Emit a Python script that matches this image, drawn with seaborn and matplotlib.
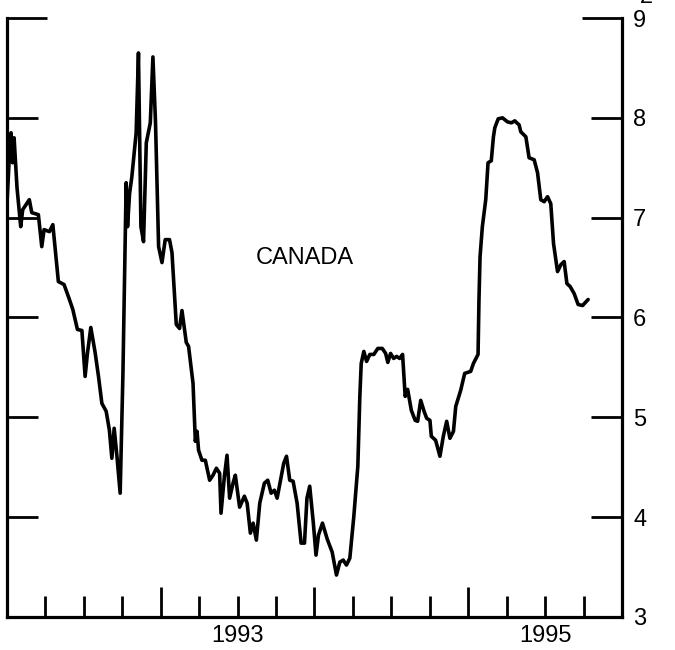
import matplotlib
matplotlib.use("Agg")
import matplotlib.pyplot as plt
import seaborn as sns
import pandas as pd

# Canada, weekly series (decimal years, percent)
years = [
    1992.000, 1992.013, 1992.026, 1992.036, 1992.046, 1992.065, 1992.089, 1992.102,
    1992.145, 1992.161, 1992.204, 1992.226, 1992.241, 1992.276, 1992.298, 1992.334,
    1992.371, 1992.406, 1992.428, 1992.458, 1992.487, 1992.508, 1992.523, 1992.545,
    1992.573, 1992.595, 1992.617, 1992.645, 1992.666, 1992.682, 1992.697, 1992.715,
    1992.736, 1992.754, 1992.775, 1992.784, 1992.797, 1992.812, 1992.840, 1992.855,
    1992.871, 1992.888, 1992.906, 1992.932, 1992.949, 1992.966, 1992.986, 1993.008,
    1993.029, 1993.057, 1993.073, 1993.101, 1993.122, 1993.138, 1993.166, 1993.181,
    1993.210, 1993.225, 1993.236, 1993.246, 1993.268, 1993.290, 1993.318, 1993.340,
    1993.362, 1993.383, 1993.392, 1993.414, 1993.431, 1993.448, 1993.470, 1993.485,
    1993.513, 1993.544, 1993.562, 1993.583, 1993.601, 1993.622, 1993.644, 1993.674,
    1993.696, 1993.718, 1993.739, 1993.757, 1993.779, 1993.800, 1993.818, 1993.839,
    1993.861, 1993.887, 1993.913, 1993.935, 1993.951, 1993.969, 1993.992, 1994.010,
    1994.026, 1994.052, 1994.083, 1994.115, 1994.143, 1994.165, 1994.187, 1994.208,
    1994.230, 1994.256, 1994.282, 1994.295, 1994.304, 1994.321, 1994.339, 1994.360,
    1994.386, 1994.412, 1994.441, 1994.463, 1994.477, 1994.495, 1994.515, 1994.534,
    1994.554, 1994.573, 1994.590, 1994.606, 1994.630, 1994.655, 1994.671, 1994.691,
    1994.713, 1994.730, 1994.751, 1994.760, 1994.788, 1994.816, 1994.838, 1994.860,
    1994.881, 1994.904, 1994.919, 1994.951, 1994.977, 1995.016, 1995.034, 1995.064,
    1995.070, 1995.077, 1995.092, 1995.114, 1995.129, 1995.150, 1995.164, 1995.173,
    1995.195, 1995.223, 1995.255, 1995.281, 1995.303, 1995.316, 1995.331, 1995.342,
    1995.375, 1995.396, 1995.429, 1995.451, 1995.472, 1995.494, 1995.516, 1995.537,
    1995.555, 1995.581, 1995.603, 1995.624, 1995.642, 1995.663, 1995.689, 1995.715,
    1995.744, 1995.780,
]
rates = [
    7.15, 7.55, 7.85, 7.55, 7.80, 7.30, 6.91, 7.08,
    7.18, 7.05, 7.03, 6.71, 6.88, 6.86, 6.93, 6.36,
    6.33, 6.18, 6.08, 5.88, 5.87, 5.41, 5.64, 5.90,
    5.65, 5.41, 5.14, 5.06, 4.87, 4.59, 4.89, 4.61,
    4.24, 5.44, 7.35, 6.91, 7.24, 7.41, 7.85, 8.65,
    6.91, 6.76, 7.75, 7.95, 8.61, 7.95, 6.71, 6.55,
    6.78, 6.78, 6.65, 5.93, 5.89, 6.07, 5.75, 5.71,
    5.34, 4.76, 4.86, 4.67, 4.57, 4.57, 4.37, 4.42,
    4.49, 4.44, 4.04, 4.41, 4.62, 4.19, 4.34, 4.42,
    4.10, 4.21, 4.14, 3.84, 3.94, 3.77, 4.14, 4.34,
    4.37, 4.24, 4.27, 4.19, 4.37, 4.54, 4.61, 4.37,
    4.36, 4.14, 3.74, 3.74, 4.19, 4.31, 3.95, 3.62,
    3.82, 3.94, 3.78, 3.65, 3.42, 3.55, 3.57, 3.52,
    3.59, 4.01, 4.51, 5.21, 5.54, 5.66, 5.56, 5.63,
    5.63, 5.69, 5.69, 5.64, 5.55, 5.64, 5.59, 5.61,
    5.59, 5.63, 5.21, 5.28, 5.07, 4.97, 4.96, 5.17,
    5.06, 4.99, 4.97, 4.81, 4.77, 4.61, 4.81, 4.96,
    4.79, 4.86, 5.11, 5.27, 5.44, 5.46, 5.54, 5.63,
    6.18, 6.61, 6.91, 7.18, 7.55, 7.57, 7.81, 7.90,
    7.99, 8.00, 7.96, 7.95, 7.97, 7.95, 7.93, 7.86,
    7.81, 7.60, 7.58, 7.45, 7.18, 7.16, 7.21, 7.14,
    6.74, 6.46, 6.53, 6.56, 6.34, 6.31, 6.24, 6.13,
    6.12, 6.18,
]

year_ticks = [1993, 1994, 1995]
quarter_ticks = [1992.25, 1992.5, 1992.75, 1993.25, 1993.5, 1993.75,
                 1994.25, 1994.5, 1994.75, 1995.25, 1995.5, 1995.75]
quarter_labels = ["", "", "", "", "1993", "", "", "", "", "", "1995", ""]
rate_ticks = [3, 4, 5, 6, 7, 8]

df = pd.DataFrame({"year": years, "rate": rates})

sns.set_style("white")
plt.rcParams["font.family"] = ["Liberation Sans", "DejaVu Sans"]
plt.rcParams["text.color"] = "black"
plt.rcParams["xtick.color"] = "black"
plt.rcParams["ytick.color"] = "black"

fig = plt.figure(figsize=(6.75, 6.5), dpi=100)
ax = fig.add_axes([0.0104, 0.0508, 0.911, 0.9215])

sns.lineplot(data=df, x="year", y="rate", color="black", linewidth=2.6,
             solid_joinstyle="round", solid_capstyle="round", ax=ax)

ax.set_xlim(1992, 1996)
ax.set_ylim(3, 9)
ax.set_xlabel("")
ax.set_ylabel("")

for side in ["left", "right", "bottom"]:
    ax.spines[side].set_visible(True)
    ax.spines[side].set_color("black")
    ax.spines[side].set_linewidth(2.3)
ax.spines["top"].set_visible(False)

# x axis: long ticks at year boundaries, short ticks each quarter
ax.set_xticks(year_ticks)
ax.set_xticklabels([])
ax.set_xticks(quarter_ticks, minor=True)
ax.set_xticklabels(quarter_labels, minor=True)
ax.tick_params(axis="x", which="major", direction="in", length=21.5, width=2.0,
               color="black", bottom=True, top=False)
ax.tick_params(axis="x", which="minor", direction="in", length=15, width=2.0,
               color="black", labelcolor="black", bottom=True, top=False,
               labelsize=17, pad=6)

# y axis: ticks on both sides, labels on the right
ax.set_yticks(rate_ticks)
ax.set_yticklabels([str(v) for v in rate_ticks])
ax.set_yticks([9], minor=True)
ax.set_yticklabels(["9"], minor=True)
ax.tick_params(axis="y", which="major", direction="in", length=22, width=2.0,
               color="black", labelcolor="black", left=True, right=True,
               labelleft=False, labelright=True, labelsize=17, pad=8)
ax.tick_params(axis="y", which="minor", direction="in", length=29, width=2.0,
               color="black", labelcolor="black", left=True, right=True,
               labelleft=False, labelright=True, labelsize=17, pad=8)

ax.text(1993.94, 6.6, "CANADA", fontsize=17, color="black",
        ha="center", va="center")
# sliver of a label from the panel above, cut by the top edge
fig.text(0.948, 0.9955, "2", fontsize=17, color="black",
         ha="left", va="baseline")

fig.savefig("out.png", dpi=100)
